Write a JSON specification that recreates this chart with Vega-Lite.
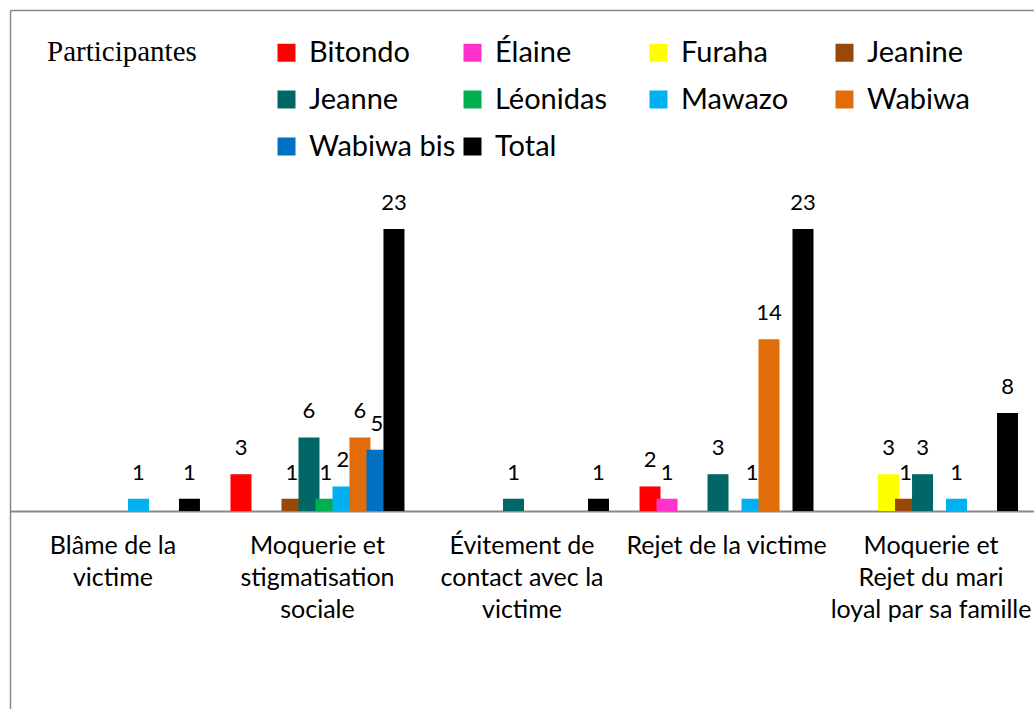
{
  "$schema": "https://vega.github.io/schema/vega-lite/v6.json",
  "width": 1024,
  "height": 699,
  "autosize": {"type": "none"},
  "padding": {"left": 10, "top": 10, "right": 0, "bottom": 0},
  "background": "white",
  "config": {"view": {"stroke": null}},
  "data": {
    "values": [
      {"cat": "Blâme de la victime", "who": "Mawazo", "value": 1},
      {"cat": "Blâme de la victime", "who": "Total", "value": 1},
      {"cat": "Moquerie et stigmatisation sociale", "who": "Bitondo", "value": 3},
      {"cat": "Moquerie et stigmatisation sociale", "who": "Jeanine", "value": 1},
      {"cat": "Moquerie et stigmatisation sociale", "who": "Jeanne", "value": 6},
      {"cat": "Moquerie et stigmatisation sociale", "who": "Léonidas", "value": 1},
      {"cat": "Moquerie et stigmatisation sociale", "who": "Mawazo", "value": 2},
      {"cat": "Moquerie et stigmatisation sociale", "who": "Wabiwa", "value": 6},
      {"cat": "Moquerie et stigmatisation sociale", "who": "Wabiwa bis", "value": 5},
      {"cat": "Moquerie et stigmatisation sociale", "who": "Total", "value": 23},
      {"cat": "Évitement de contact avec la victime", "who": "Jeanne", "value": 1},
      {"cat": "Évitement de contact avec la victime", "who": "Total", "value": 1},
      {"cat": "Rejet de la victime", "who": "Bitondo", "value": 2},
      {"cat": "Rejet de la victime", "who": "Élaine", "value": 1},
      {"cat": "Rejet de la victime", "who": "Jeanne", "value": 3},
      {"cat": "Rejet de la victime", "who": "Mawazo", "value": 1},
      {"cat": "Rejet de la victime", "who": "Wabiwa", "value": 14},
      {"cat": "Rejet de la victime", "who": "Total", "value": 23},
      {"cat": "Moquerie et Rejet du mari loyal par sa famille", "who": "Furaha", "value": 3},
      {"cat": "Moquerie et Rejet du mari loyal par sa famille", "who": "Jeanine", "value": 1},
      {"cat": "Moquerie et Rejet du mari loyal par sa famille", "who": "Jeanne", "value": 3},
      {"cat": "Moquerie et Rejet du mari loyal par sa famille", "who": "Mawazo", "value": 1},
      {"cat": "Moquerie et Rejet du mari loyal par sa famille", "who": "Total", "value": 8}
    ]
  },
  "layer": [
    {
      "mark": {"type": "bar", "width": 21},
      "encoding": {
        "x": {
          "field": "cat", "type": "nominal",
          "sort": ["Blâme de la victime", "Moquerie et stigmatisation sociale", "Évitement de contact avec la victime", "Rejet de la victime", "Moquerie et Rejet du mari loyal par sa famille"],
          "scale": {"paddingInner": 0.169, "paddingOuter": 0.088},
          "axis": {
            "orient": "bottom", "offset": -198, "title": null, "labelAngle": 0,
            "labelExpr": "datum.value == 'Blâme de la victime' ? ['Blâme de la', 'victime'] : datum.value == 'Moquerie et stigmatisation sociale' ? ['Moquerie et', 'stigmatisation', 'sociale'] : datum.value == 'Évitement de contact avec la victime' ? ['Évitement de', 'contact avec la', 'victime'] : datum.value == 'Rejet de la victime' ? 'Rejet de la victime' : ['Moquerie et', 'Rejet du mari', 'loyal par sa famille']",
            "labelFont": "Lato", "labelFontSize": 25, "labelColor": "#000000",
            "labelLineHeight": 32, "labelPadding": 22, "labelBaseline": "top", "labelLimit": 400,
            "ticks": false, "domainColor": "#898989", "domainWidth": 2, "grid": false
          }
        },
        "xOffset": {
          "field": "who", "type": "nominal",
          "scale": {"domain": ["Bitondo", "Élaine", "Furaha", "Jeanine", "Jeanne", "Léonidas", "Mawazo", "Wabiwa", "Wabiwa bis", "Total"], "paddingInner": 0, "paddingOuter": 0}
        },
        "y": {
          "field": "value", "type": "quantitative",
          "scale": {"domain": [-16.15, 40.86], "nice": false, "zero": false},
          "axis": {"orient": "left", "labels": false, "ticks": false, "grid": false, "title": null, "domain": true, "domainColor": "#898989", "domainWidth": 1.5}
        },
        "y2": {"datum": 0},
        "color": {
          "field": "who", "type": "nominal",
          "scale": {
            "domain": ["Bitondo", "Élaine", "Furaha", "Jeanine", "Jeanne", "Léonidas", "Mawazo", "Wabiwa", "Wabiwa bis", "Total"],
            "range": ["#FF0000", "#FF33CC", "#FFFF00", "#984807", "#006666", "#00B050", "#00B0F0", "#E36C0A", "#0070C0", "#000000"]
          },
          "legend": {
            "orient": "none", "legendX": 37, "legendY": 28, "direction": "horizontal", "columns": 4, "gridAlign": "all",
            "title": "Participantes", "titleOrient": "left", "titleAnchor": "start", "titleBaseline": "top", "titleFont": "Liberation Serif", "titleFontSize": 29,
            "titleFontWeight": "normal", "titleColor": "#000000", "titlePadding": 75,
            "labelFont": "Lato", "labelFontSize": 29, "labelColor": "#000000", "labelOffset": 8, "labelLimit": 400,
            "symbolType": "square", "symbolSize": 324, "symbolStrokeWidth": 0, "symbolOpacity": 1,
            "rowPadding": 17, "columnPadding": 2, "padding": 0
          }
        }
      }
    },
    {
      "mark": {"type": "text", "font": "Lato", "fontSize": 22, "baseline": "alphabetic", "dy": -19, "color": "#000000"},
      "encoding": {
        "x": {
          "field": "cat", "type": "nominal",
          "sort": ["Blâme de la victime", "Moquerie et stigmatisation sociale", "Évitement de contact avec la victime", "Rejet de la victime", "Moquerie et Rejet du mari loyal par sa famille"],
          "axis": {"orient": "top", "labels": false, "ticks": false, "title": null, "domainColor": "#898989", "domainWidth": 1.5, "grid": false}
        },
        "xOffset": {"field": "who", "type": "nominal"},
        "y": {
          "field": "value", "type": "quantitative",
          "axis": {"orient": "left", "labels": false, "ticks": false, "grid": false, "title": null, "domain": true, "domainColor": "#898989", "domainWidth": 1.5}
        },
        "text": {"field": "value", "type": "quantitative"}
      }
    }
  ]
}
